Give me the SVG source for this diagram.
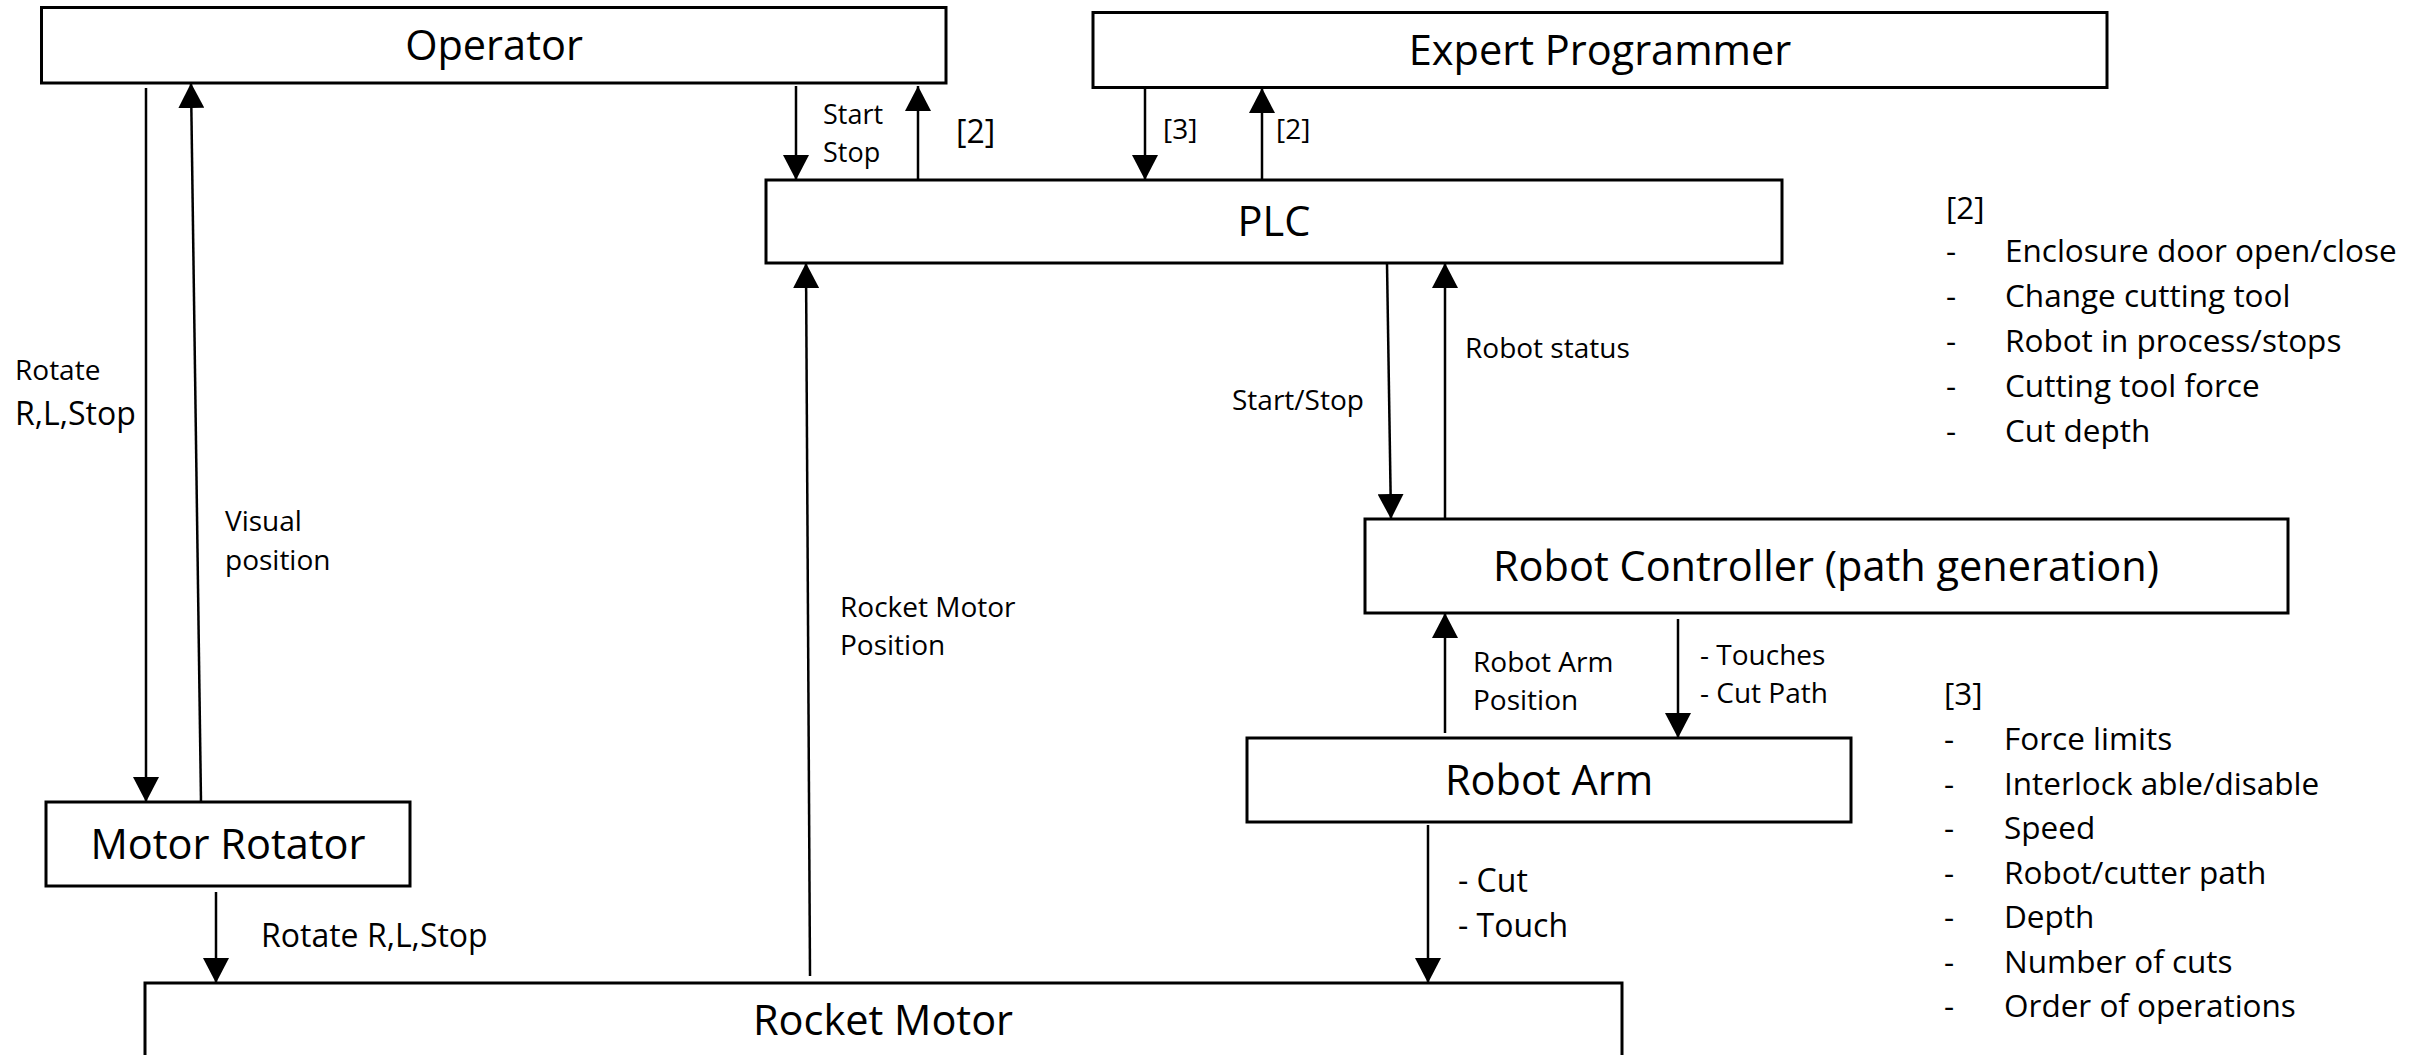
<svg xmlns="http://www.w3.org/2000/svg" width="2417" height="1055" viewBox="0 0 2417 1055">
  <style>
    .box { fill: #ffffff; stroke: #000000; stroke-width: 3; }
    .title { font-family: "Open Sans", "Noto Sans", sans-serif; font-size: 41.5px; fill: #000000; text-anchor: middle; }
    .lbl { font-family: "Open Sans", "Noto Sans", sans-serif; font-size: 28px; fill: #000000; }
    .lbl-t { font-family: "Open Sans", "Noto Sans", sans-serif; font-size: 27px; fill: #000000; }
    .lbl-l { font-family: "Open Sans", "Noto Sans", sans-serif; font-size: 32px; fill: #000000; }
    .lbl-s { font-family: "Open Sans", "Noto Sans", sans-serif; font-size: 28px; fill: #000000; }
    .legend { font-family: "Open Sans", "Noto Sans", sans-serif; font-size: 31.5px; fill: #000000; }
    .wire { fill: none; stroke: #000000; stroke-width: 2.5; }
  </style>
  <defs>
    <marker id="arrow" markerUnits="userSpaceOnUse" markerWidth="26" markerHeight="26" refX="25" refY="13" orient="auto">
      <path d="M0,0 L25,13 L0,26 z" fill="#000000"/>
    </marker>
  </defs>

  <rect width="2417" height="1055" fill="#ffffff"/>

  <!-- Nodes -->
  <g id="operator">
    <rect class="box" x="41.5" y="7.5" width="904.5" height="75.5"/>
    <text class="title" x="494" y="60">Operator</text>
  </g>
  <g id="expert-programmer">
    <rect class="box" x="1093" y="12.5" width="1014" height="75"/>
    <text class="title" x="1600" y="65">Expert Programmer</text>
  </g>
  <g id="plc">
    <rect class="box" x="766" y="180" width="1016" height="83"/>
    <text class="title" x="1274" y="236">PLC</text>
  </g>
  <g id="robot-controller">
    <rect class="box" x="1365" y="519" width="923" height="94"/>
    <text class="title" x="1826" y="581">Robot Controller (path generation)</text>
  </g>
  <g id="robot-arm">
    <rect class="box" x="1247" y="738" width="604" height="84"/>
    <text class="title" x="1549" y="795">Robot Arm</text>
  </g>
  <g id="motor-rotator">
    <rect class="box" x="46" y="802" width="364" height="84"/>
    <text class="title" x="228" y="859">Motor Rotator</text>
  </g>
  <g id="rocket-motor">
    <rect class="box" x="145" y="983" width="1477" height="90"/>
    <text class="title" x="883" y="1035">Rocket Motor</text>
  </g>

  <!-- Connectors -->
  <g id="connectors">
    <line class="wire" x1="146" y1="88" x2="146" y2="802" marker-end="url(#arrow)"/>
    <line class="wire" x1="201" y1="802" x2="191" y2="83" marker-end="url(#arrow)"/>
    <line class="wire" x1="796" y1="86" x2="796" y2="180" marker-end="url(#arrow)"/>
    <line class="wire" x1="918" y1="180" x2="918" y2="86" marker-end="url(#arrow)"/>
    <line class="wire" x1="1145" y1="88" x2="1145" y2="180" marker-end="url(#arrow)"/>
    <line class="wire" x1="1262" y1="180" x2="1262" y2="88" marker-end="url(#arrow)"/>
    <line class="wire" x1="1387" y1="263" x2="1391" y2="519" marker-end="url(#arrow)"/>
    <line class="wire" x1="1445" y1="519" x2="1445" y2="263" marker-end="url(#arrow)"/>
    <line class="wire" x1="1445" y1="733" x2="1445" y2="613" marker-end="url(#arrow)"/>
    <line class="wire" x1="1678" y1="619" x2="1678" y2="738" marker-end="url(#arrow)"/>
    <line class="wire" x1="1428" y1="825" x2="1428" y2="983" marker-end="url(#arrow)"/>
    <line class="wire" x1="216" y1="892" x2="216" y2="983" marker-end="url(#arrow)"/>
    <line class="wire" x1="810" y1="976" x2="806" y2="263" marker-end="url(#arrow)"/>
  </g>

  <!-- Connector labels -->
  <g id="labels">
    <text class="lbl" x="15" y="380">Rotate</text>
    <text class="lbl-l" x="15" y="425">R,L,Stop</text>
    <text class="lbl" x="225" y="531">Visual</text>
    <text class="lbl" x="225" y="570">position</text>
    <text class="lbl-t" x="823" y="124">Start</text>
    <text class="lbl-t" x="823" y="162">Stop</text>
    <text class="lbl-l" x="956" y="143">[2]</text>
    <text class="lbl-s" x="1163" y="139">[3]</text>
    <text class="lbl-s" x="1276" y="139">[2]</text>
    <text class="lbl" x="1465" y="358">Robot status</text>
    <text class="lbl" x="1232" y="410">Start/Stop</text>
    <text class="lbl" x="840" y="617">Rocket Motor</text>
    <text class="lbl" x="840" y="655">Position</text>
    <text class="lbl" x="1473" y="672">Robot Arm</text>
    <text class="lbl" x="1473" y="710">Position</text>
    <text class="lbl" x="1700" y="665">- Touches</text>
    <text class="lbl" x="1700" y="703">- Cut Path</text>
    <text class="lbl-l" x="1458" y="892">- Cut</text>
    <text class="lbl-l" x="1458" y="937">- Touch</text>
    <text class="lbl-l" x="261" y="947">Rotate R,L,Stop</text>
  </g>

  <!-- Notes for [2] -->
  <g id="legend-2" class="legend">
    <text x="1946" y="219">[2]</text>
    <text x="1946" y="262">-</text><text x="2005" y="262">Enclosure door open/close</text>
    <text x="1946" y="307">-</text><text x="2005" y="307">Change cutting tool</text>
    <text x="1946" y="352">-</text><text x="2005" y="352">Robot in process/stops</text>
    <text x="1946" y="397">-</text><text x="2005" y="397">Cutting tool force</text>
    <text x="1946" y="442">-</text><text x="2005" y="442">Cut depth</text>
  </g>

  <!-- Notes for [3] -->
  <g id="legend-3" class="legend">
    <text x="1944" y="705">[3]</text>
    <text x="1944" y="750">-</text><text x="2004" y="750">Force limits</text>
    <text x="1944" y="795">-</text><text x="2004" y="795">Interlock able/disable</text>
    <text x="1944" y="839">-</text><text x="2004" y="839">Speed</text>
    <text x="1944" y="884">-</text><text x="2004" y="884">Robot/cutter path</text>
    <text x="1944" y="928">-</text><text x="2004" y="928">Depth</text>
    <text x="1944" y="973">-</text><text x="2004" y="973">Number of cuts</text>
    <text x="1944" y="1017">-</text><text x="2004" y="1017">Order of operations</text>
  </g>
</svg>
